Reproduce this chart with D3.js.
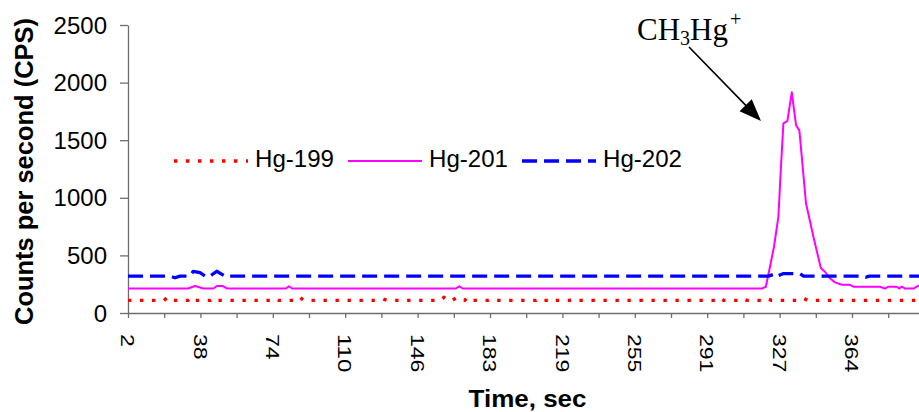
<!DOCTYPE html>
<html><head><meta charset="utf-8">
<script src="https://cdn.jsdelivr.net/npm/d3@7"></script>
<style>body{margin:0;background:#fff} svg{display:block}</style>
</head><body><svg id="c" width="919" height="412"></svg>
<script>
// ---- data (time in s, counts per second) ----
const seriesNames = ["Hg-199", "Hg-201", "Hg-202"];
const hg199 = [
  [2,110],[20,110],[21.85,136],[23.7,110],[32,110],[33.85,136],[35.7,110],[43.3,110],[45.15,130],[47,110],
  [73.7,110],[75.5,125],[77.3,110],[86.2,110],[88,136],[89.8,110],[127.8,110],[129.65,120],[131.5,110],
  [158.2,110],[160,136],[161.8,110],[164.2,110],[166,130],[167.8,110],[170.3,110],[172.15,136],[174,110],
  [182,110],[183.85,120],[185.7,110],[206.2,110],[208,124],[209.8,110],[212,110],[213.85,124],[215.7,110],
  [222.8,110],[224.65,120],[226.5,110],[296.2,110],[298,130],[299.8,110],[307.8,110],[309.65,124],[311.5,110],
  [320,110],[321.85,124],[323.7,110],[338.2,110],[340,126],[341.8,110],[397.5,110]
];
const hg201 = [
  [2,213],[32,213],[35.5,234],[39.7,213],[44.7,213],[46.5,234],[49.5,234],[51.4,213],[81,213],[82.5,232],
  [84,213],[166,213],[167.7,232],[169.3,213],[318.9,212],[320.9,228],[323,402],[325,575],[327.2,836],
  [328.4,1241],[329.7,1647],[331.7,1667],[333.9,1916],[336,1632],[337.7,1583],[341,952],[344.7,662],
  [347.2,480],[348.4,390],[350.5,358],[353,301],[355.5,266],[358.9,245],[363,245],[364.7,228],[378,228],
  [380.5,212],[382.2,228],[386.4,228],[387.7,212],[388.9,230],[390.5,212],[394.7,212],[397.5,240]
];
const hg202 = [
  [2,320],[23,320],[25.5,306],[28,320],[33,320],[34.65,362],[38,350],[41.35,312],[43,320],[44.65,341],
  [46.35,362],[51.35,312],[53,320],[322.2,320],[325.2,338],[326.4,318],[329.5,341],[338,341],[339.8,320],
  [369,320],[370.85,310],[372.7,320],[397.5,320]
];
const yTicks = [0, 500, 1000, 1500, 2000, 2500];
const xTickLabels = ["2","38","74","110","146","183","219","255","291","327","364"];
const xTickStep = 18.1; // seconds between tick marks (labels on every 2nd)

// ---- layout ----
const svg = d3.select("#c");
const x = d3.scaleLinear().domain([2, 397.5]).range([128, 919]);
const y = d3.scaleLinear().domain([0, 2500]).range([313, 25]);
const axisColor = "#6e6e6e";
const sans = "'Liberation Sans', Arial, sans-serif";

// y axis
const ya = svg.append("g").attr("transform", "translate(128,0)")
  .call(d3.axisLeft(y).tickValues(yTicks).tickSize(8).tickSizeOuter(0).tickFormat(""));
ya.selectAll("path,line").attr("stroke", axisColor).attr("stroke-width", 1.3);
svg.append("g").selectAll("text").data(yTicks).join("text")
  .attr("x", 107).attr("y", d => y(d)).attr("dy", "0.36em")
  .attr("text-anchor", "end").attr("font-family", sans).attr("font-size", 24)
  .text(d => d);

// x axis
const tickSecs = d3.range(22).map(k => 2 + k * xTickStep);
const xa = svg.append("g").attr("transform", "translate(0,313)")
  .call(d3.axisBottom(x).tickValues(tickSecs).tickSize(5).tickSizeOuter(0).tickFormat(""));
xa.selectAll("path,line").attr("stroke", axisColor).attr("stroke-width", 1.3);
svg.append("g").selectAll("text").data(xTickLabels).join("text")
  .attr("transform", (d, i) => `translate(${x(2 + 2 * i * xTickStep) - 6.8},334) rotate(90)`)
  .attr("font-family", sans).attr("font-size", 18.5)
  .attr("textLength", d => d.length * 12.8).attr("lengthAdjust", "spacingAndGlyphs")
  .text(d => d);

// axis titles
svg.append("text").attr("transform", "translate(33,171.5) rotate(-90)")
  .attr("text-anchor", "middle").attr("font-family", sans).attr("font-weight", "bold")
  .attr("font-size", 26).attr("textLength", 307).attr("lengthAdjust", "spacingAndGlyphs")
  .text("Counts per second (CPS)");
svg.append("text").attr("x", 527.5).attr("y", 406.5)
  .attr("text-anchor", "middle").attr("font-family", sans).attr("font-weight", "bold")
  .attr("font-size", 23).attr("textLength", 118).attr("lengthAdjust", "spacingAndGlyphs")
  .text("Time, sec");

// series
const styles = [
  {color: "#ff0000", width: 3.4, dash: "3.4,8.6"},
  {color: "#ff00ff", width: 2, dash: null},
  {color: "#0000ff", width: 3.3, dash: "15,7"}
];
const line = d3.line().x(d => x(d[0])).y(d => y(d[1]));
[hg199, hg201, hg202].forEach((s, i) => {
  svg.append("path").datum(s).attr("d", line).attr("fill", "none")
    .attr("stroke", styles[i].color).attr("stroke-width", styles[i].width)
    .attr("stroke-dasharray", styles[i].dash).attr("stroke-linejoin", "round");
});

// legend
const legX = [174, 348, 522];
seriesNames.forEach((n, i) => {
  svg.append("line").attr("x1", legX[i]).attr("x2", legX[i] + 74).attr("y1", 161).attr("y2", 161)
    .attr("stroke", styles[i].color).attr("stroke-width", styles[i].width)
    .attr("stroke-dasharray", styles[i].dash);
  svg.append("text").attr("x", legX[i] + 81).attr("y", 167)
    .attr("font-family", sans).attr("font-size", 24)
    .attr("textLength", 79).attr("lengthAdjust", "spacingAndGlyphs").text(n);
});

// annotation
const serif = "'Liberation Serif', 'Times New Roman', serif";
const ann = svg.append("text").attr("x", 637).attr("y", 40).attr("font-family", serif).attr("font-size", 31);
ann.append("tspan").text("CH");
ann.append("tspan").attr("font-size", 20).attr("dy", 5).text("3");
ann.append("tspan").attr("dy", -5).text("Hg");
ann.append("tspan").attr("font-size", 20).attr("dy", -14).attr("dx", 2).text("+");

const a0 = [689, 47], a1 = [761, 121];
const dx = a1[0] - a0[0], dy = a1[1] - a0[1], L = Math.hypot(dx, dy);
const ux = dx / L, uy = dy / L, hl = 22, hw = 8.5;
svg.append("line").attr("x1", a0[0]).attr("y1", a0[1])
  .attr("x2", a1[0] - ux * hl * 0.8).attr("y2", a1[1] - uy * hl * 0.8)
  .attr("stroke", "#000").attr("stroke-width", 1.6);
const bx = a1[0] - ux * hl, by = a1[1] - uy * hl;
svg.append("path").attr("d", `M${a1[0]},${a1[1]}L${bx - uy * hw},${by + ux * hw}L${bx + uy * hw},${by - ux * hw}Z`)
  .attr("fill", "#000");
</script></body></html>
